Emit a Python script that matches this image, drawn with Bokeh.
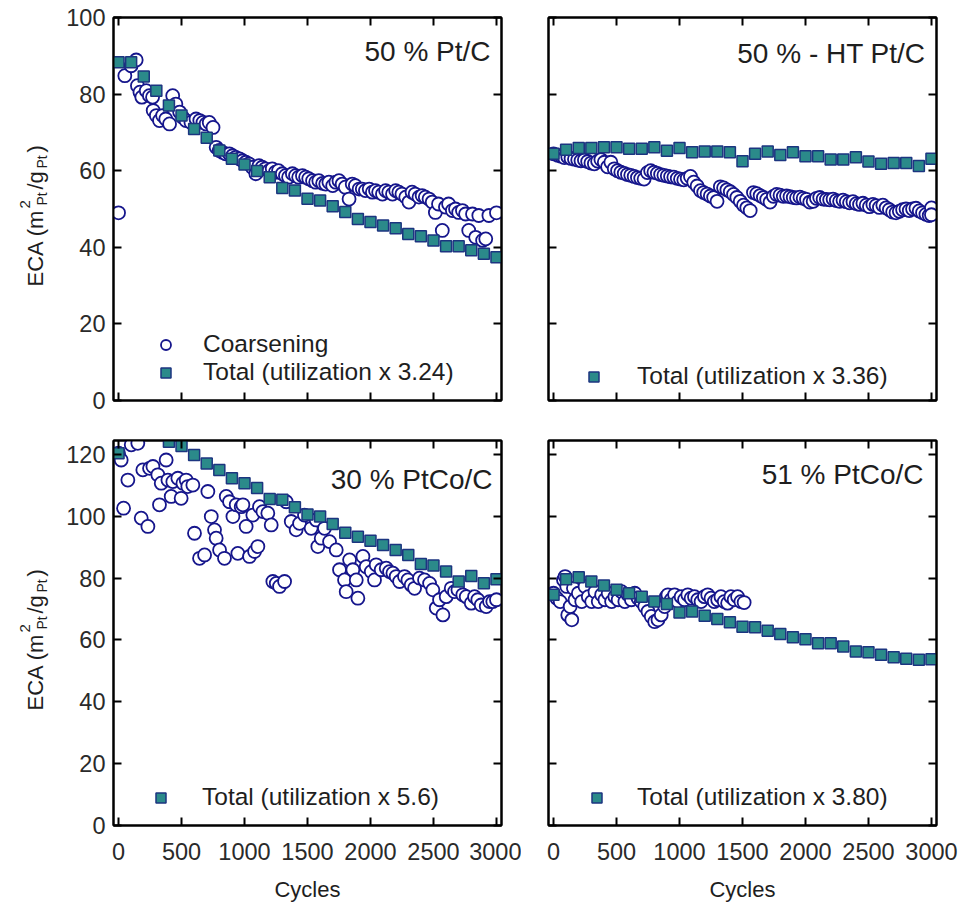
import numpy as np
from bokeh.plotting import figure
from bokeh.models import (Range1d, LinearAxis, FixedTicker, Legend, LegendItem,
                          Label, ColumnDataSource)
from bokeh.layouts import row, column
from bokeh.embed import file_html
from bokeh.resources import INLINE
from bokeh.core.properties import value

FONT = "Liberation Sans"

# ---------------- data ----------------
x_ticks = [0, 500, 1000, 1500, 2000, 2500, 3000]
y_ticks_top = [0, 20, 40, 60, 80, 100]
y_ticks_bottom = [0, 20, 40, 60, 80, 100, 120]

cycles_100 = [0, 100, 200, 300, 400, 500, 600, 700, 800, 900, 1000, 1100, 1200, 1300, 1400,
              1500, 1600, 1700, 1800, 1900, 2000, 2100, 2200, 2300, 2400, 2500, 2600, 2700,
              2800, 2900, 3000]

# Panel 1: 50 % Pt/C
p1_total_y = [88.3, 88.3, 84.6, 80.9, 77.0, 74.4, 70.9, 68.6, 65.3, 63.1, 61.6, 59.9, 58.3,
              55.5, 54.8, 52.7, 52.2, 50.7, 49.2, 47.4, 46.6, 45.7, 45.0, 43.5, 42.9, 41.8,
              40.3, 40.3, 39.2, 38.3, 37.4]
p1_coarse_x = [0, 50, 100, 140, 150, 170, 185, 220, 245, 270, 275, 300, 325, 350, 375, 405,
               430, 455, 485, 510, 535, 575, 615, 645, 670, 695, 720, 750, 775, 800, 825, 850,
               880, 905, 930, 960, 985, 1010, 1035, 1060, 1090, 1115, 1140, 1165, 1195, 1220,
               1245, 1270, 1300, 1325, 1350, 1380, 1405, 1430, 1460, 1485, 1510, 1540, 1565,
               1590, 1620, 1645, 1670, 1700, 1725, 1750, 1775, 1800, 1830, 1855, 1880, 1910,
               1935, 1960, 1990, 2015, 2040, 2065, 2095, 2120, 2145, 2175, 2200, 2225, 2250,
               2280, 2305, 2330, 2355, 2385, 2410, 2435, 2465, 2490, 2515, 2540, 2570, 2595,
               2620, 2650, 2675, 2700, 2730, 2755, 2780, 2810, 2835, 2860, 2890, 2915, 2940,
               3000]
p1_coarse_y = [49.0, 84.8, 87.4, 88.9, 82.2, 80.5, 79.2, 80.9, 79.6, 79.2, 75.7, 74.4, 73.1,
               74.4, 73.5, 72.2, 79.6, 77.4, 75.3, 73.9, 73.1, 72.6, 73.5, 73.1, 72.6, 72.2,
               72.6, 71.3, 66.1, 65.3, 64.8, 64.4, 64.4, 63.9, 63.5, 63.1, 62.6, 62.2, 61.8,
               60.9, 59.2, 61.3, 60.9, 60.5, 60.0, 60.5, 59.6, 60.0, 59.2, 58.7, 58.3, 59.2,
               58.7, 58.3, 58.7, 58.3, 57.9, 57.4, 57.0, 57.4, 56.7, 56.5, 57.0, 56.1, 57.0,
               57.4, 56.5, 55.7, 52.6, 56.5, 56.1, 55.2, 55.2, 54.8, 55.2, 54.4, 54.8, 54.4,
               53.9, 54.8, 54.4, 53.9, 54.8, 54.4, 53.9, 53.1, 51.8, 54.4, 53.9, 53.1, 53.5,
               53.1, 52.6, 51.8, 49.1, 51.3, 44.4, 50.5, 51.3, 49.6, 50.0, 49.1, 49.6, 48.7,
               44.4, 48.7, 42.6, 48.3, 41.8, 42.2, 48.3, 49.0]

# Panel 2: 50 % - HT Pt/C
p2_total_y = [64.4, 65.5, 65.9, 65.9, 66.1, 66.1, 65.7, 65.7, 66.1, 65.2, 65.9, 64.8, 65.0,
              65.0, 64.8, 62.5, 64.4, 65.0, 64.1, 64.8, 63.8, 63.8, 62.9, 62.9, 63.5, 62.4,
              61.8, 62.0, 62.0, 61.2, 63.1]
p2_coarse_x = [0, 34, 61, 87, 113, 139, 166, 192, 218, 245, 271, 297, 324, 350, 376, 403, 429,
               455, 482, 508, 534, 561, 587, 613, 640, 666, 692, 719, 745, 771, 797, 824, 850,
               876, 903, 929, 955, 982, 1008, 1034, 1061, 1087, 1113, 1140, 1166, 1192, 1219,
               1245, 1271, 1298, 1324, 1350, 1376, 1403, 1429, 1455, 1482, 1508, 1534, 1561,
               1587, 1613, 1640, 1666, 1692, 1719, 1745, 1771, 1798, 1824, 1850, 1877, 1903,
               1929, 1956, 1982, 2008, 2034, 2061, 2087, 2113, 2140, 2166, 2192, 2219, 2245,
               2271, 2298, 2324, 2350, 2377, 2403, 2429, 2456, 2482, 2508, 2535, 2561, 2587,
               2614, 2640, 2666, 2692, 2719, 2745, 2771, 2798, 2824, 2850, 2877, 2903, 2929,
               2956, 2982, 3000, 3000]
p2_coarse_y = [64.4, 64.0, 63.8, 63.4, 63.6, 63.2, 63.0, 62.8, 62.6, 62.8, 62.4, 62.0, 61.8,
               62.5, 62.9, 62.2, 61.0, 62.2, 60.5, 60.0, 59.6, 59.3, 59.0, 58.8, 58.5, 58.2,
               58.0, 57.8, 59.5, 60.0, 59.6, 59.3, 59.0, 58.8, 58.6, 58.4, 58.3, 58.0, 57.8,
               57.6, 58.0, 58.5, 57.0, 56.0, 54.8, 54.3, 53.9, 53.4, 53.0, 52.0, 55.8, 55.5,
               55.0, 54.5, 53.8, 53.0, 52.0, 51.0, 50.3, 49.6, 54.3, 54.0, 53.5, 53.0, 52.5,
               51.8, 53.3, 53.8, 53.6, 53.3, 53.4, 53.2, 53.0, 52.9, 53.1, 52.8, 52.5, 51.8,
               52.0, 52.8, 53.0, 52.6, 52.5, 52.4, 52.6, 52.2, 52.0, 52.3, 51.9, 51.6, 51.9,
               51.4, 51.2, 51.5, 51.0, 50.6, 51.2, 50.9, 50.4, 51.0, 50.3, 49.8, 49.2, 49.0,
               49.4, 49.8, 50.0, 49.6, 50.0, 50.2, 49.5, 49.0, 48.6, 48.3, 50.3, 48.5]

# Panel 3: 30 % PtCo/C
p3_total_x = [0, 400, 500, 600, 700, 800, 900, 1000, 1100, 1200, 1300, 1400, 1500, 1600, 1700,
              1800, 1900, 2000, 2100, 2200, 2300, 2400, 2500, 2600, 2700, 2800, 2900, 3000]
p3_total_y = [120.4, 124.1, 122.7, 119.8, 117.1, 115.0, 112.3, 110.7, 109.1, 105.6, 105.3,
              102.9, 100.6, 99.9, 97.5, 94.7, 93.4, 92.1, 90.7, 89.1, 87.5, 84.6, 84.1, 82.1,
              78.9, 80.7, 78.3, 79.6]
p3_coarse_x = [0, 21, 74, 40, 101, 153, 180, 233, 193, 246, 273, 312, 325, 339, 378, 392, 418,
               431, 471, 497, 511, 537, 550, 590, 603, 643, 683, 709, 736, 762, 775, 802, 841,
               855, 881, 908, 934, 947, 974, 987, 1013, 1040, 1066, 1080, 1106, 1119, 1146,
               1185, 1212, 1225, 1252, 1278, 1318, 1331, 1371, 1410, 1437, 1476, 1529, 1569,
               1582, 1609, 1635, 1675, 1728, 1754, 1794, 1807, 1834, 1860, 1887, 1900, 1940,
               1966, 2006, 2032, 2045, 2085, 2125, 2151, 2178, 2204, 2231, 2270, 2297, 2323,
               2350, 2389, 2429, 2469, 2495, 2522, 2548, 2575, 2601, 2641, 2667, 2694, 2733,
               2760, 2800, 2826, 2852, 2879, 2919, 2945, 2971, 3000]
p3_coarse_y = [120.4, 118.2, 111.7, 102.6, 123.1, 123.6, 99.4, 96.7, 115.0, 115.5, 116.1,
               113.4, 103.7, 110.7, 118.2, 111.7, 106.4, 111.2, 112.3, 105.8, 110.7, 111.7,
               109.6, 110.1, 94.5, 86.4, 87.5, 108.0, 99.9, 95.6, 92.9, 89.1, 86.4, 106.4,
               104.7, 99.9, 103.7, 88.0, 103.1, 103.7, 96.7, 87.0, 100.4, 88.6, 90.2, 103.1,
               101.5, 101.0, 97.2, 78.9, 78.3, 77.3, 78.9, 104.7, 98.3, 95.6, 97.7, 100.4,
               96.1, 98.8, 90.2, 92.9, 96.1, 91.8, 89.1, 82.7, 79.4, 75.6, 85.9, 82.7, 79.4,
               73.5, 87.0, 83.7, 82.1, 79.4, 84.3, 82.7, 83.2, 82.1, 81.6, 80.5, 78.9, 80.5,
               79.4, 77.8, 76.7, 80.0, 79.4, 78.3, 76.2, 70.3, 73.0, 68.1, 74.0, 76.7, 75.6,
               76.2, 74.6, 74.0, 71.9, 74.0, 73.0, 71.3, 70.8, 72.4, 72.4, 73.0]

# Panel 4: 51 % PtCo/C
p4_total_y = [74.6, 79.6, 80.3, 78.9, 77.6, 76.2, 75.1, 74.0, 72.4, 71.6, 68.9, 69.2, 67.8,
              66.8, 65.7, 64.3, 64.1, 63.0, 61.9, 60.9, 60.2, 58.9, 58.9, 57.9, 56.3, 56.0,
              55.2, 54.4, 53.9, 53.6, 53.8]
p4_coarse_x = [0, 26, 53, 79, 92, 105, 113, 132, 145, 158, 171, 197, 224, 250, 276, 303, 329,
               355, 382, 408, 434, 461, 487, 513, 540, 566, 592, 618, 645, 671, 697, 724, 750,
               776, 803, 829, 855, 882, 895, 908, 934, 961, 987, 1013, 1040, 1066, 1092, 1119,
               1145, 1171, 1198, 1224, 1250, 1276, 1303, 1329, 1355, 1382, 1408, 1434, 1461,
               1487, 1513]
p4_coarse_y = [75.1, 73.5, 72.4, 79.4, 80.5, 77.3, 68.1, 70.8, 66.5, 76.7, 73.0, 75.1, 72.4,
               77.3, 74.0, 72.4, 75.6, 72.4, 74.6, 73.0, 75.1, 72.4, 74.0, 73.0, 75.6, 72.4,
               74.6, 73.0, 75.1, 73.5, 72.4, 70.8, 69.2, 67.6, 65.9, 66.5, 68.1, 70.8, 74.0,
               74.6, 73.0, 74.6, 72.4, 74.0, 73.0, 74.6, 73.5, 74.0, 73.0, 72.4, 74.0, 74.6,
               73.5, 72.4, 73.0, 74.0, 72.4, 71.9, 74.0, 73.0, 74.0, 72.4, 72.1]

titles = ["50 % Pt/C", "50 % - HT Pt/C", "30 % PtCo/C", "51 % PtCo/C"]
coarse_label = "Coarsening"
total_labels = ["Total (utilization x 3.24)", "Total (utilization x 3.36)",
                "Total (utilization x 5.6)", "Total (utilization x 3.80)"]
x_label = "Cycles"

# ---------------- style ----------------
CIRCLE_LINE = "#16168c"
SQUARE_FILL = "#2b8a8a"
SQUARE_LINE = "#1c3580"
TEXT = "#1e1e1e"
TICK_TEXT = "#2a2a2a"


def style_axis(ax, ticks, show_labels):
    ax.ticker = FixedTicker(ticks=ticks)
    ax.major_tick_in = 8
    ax.major_tick_out = 0
    ax.minor_tick_in = 0
    ax.minor_tick_out = 0
    ax.major_tick_line_width = 2
    ax.major_tick_line_color = "black"
    ax.axis_line_width = 2
    ax.axis_line_color = "black"
    ax.major_label_text_font = FONT
    if show_labels:
        ax.major_label_text_font_size = "23.5px"
        ax.major_label_text_color = TICK_TEXT
    else:
        ax.major_label_text_font_size = "1px"
        ax.major_label_text_color = None
        ax.major_label_standoff = 0


def make_panel(width, height, borders, y_end, y_ticks, show_y, show_x, title, title_xy,
               cx, cy, tx, ty, total_label, legend_loc, legend_standoff, with_coarse_legend):
    bl, br, bt, bb = borders
    p = figure(width=width, height=height, x_range=Range1d(-40, 3040),
               y_range=Range1d(0, y_end), output_backend="svg", toolbar_location=None,
               min_border_left=bl, min_border_right=br, min_border_top=bt,
               min_border_bottom=bb, background_fill_color="white",
               border_fill_color="white", outline_line_color="black",
               outline_line_width=2)
    p.grid.visible = False
    p.add_layout(LinearAxis(), "above")
    p.add_layout(LinearAxis(), "right")
    style_axis(p.below[0], x_ticks, show_x)
    style_axis(p.above[0], x_ticks, False)
    style_axis(p.left[0], y_ticks, show_y)
    style_axis(p.right[0], y_ticks, False)
    if show_y:
        p.left[0].major_label_standoff = 8
    if show_x:
        p.below[0].major_label_standoff = 17
        p.below[0].axis_label = x_label
        p.below[0].axis_label_text_font = FONT
        p.below[0].axis_label_text_font_size = "22px"
        p.below[0].axis_label_text_font_style = "normal"
        p.below[0].axis_label_text_color = TEXT
        p.below[0].axis_label_standoff = 14

    rc = p.scatter(cx, cy, marker="circle", size=13, fill_color="white",
                   line_color=CIRCLE_LINE, line_width=1.8)
    rs = p.scatter(tx, ty, marker="square", size=11, fill_color=SQUARE_FILL,
                   line_color=SQUARE_LINE, line_width=1.5)

    items = []
    if with_coarse_legend:
        items.append(LegendItem(label=coarse_label, renderers=[rc]))
    items.append(LegendItem(label=total_label, renderers=[rs]))
    leg = Legend(items=items, location=legend_loc, padding=0, margin=0, spacing=0,
                 glyph_width=25, glyph_height=25, label_height=28,
                 label_standoff=int(legend_standoff), label_text_font=FONT,
                 label_text_font_size="24.5px", label_text_color=TEXT,
                 border_line_color=None, background_fill_alpha=0)
    p.add_layout(leg)

    p.add_layout(Label(x=title_xy[0], y=title_xy[1], text=title, text_align="right",
                       text_baseline="alphabetic", text_font=FONT,
                       text_font_size="28px", text_color=TEXT))
    return p


def make_ylabel(height, start_y, cx=35):
    f = figure(width=50, height=height, x_range=Range1d(0, 50), y_range=Range1d(0, height),
               x_axis_location=None, y_axis_location=None, min_border=0,
               outline_line_color=None, toolbar_location=None, output_backend="svg",
               background_fill_color="white", border_fill_color="white")
    f.grid.visible = False
    # (text, font px, offset across the line, offset along the line)
    pieces = [("ECA (m", 22, 0, 0), ("2", 15, -11, 78), ("Pt", 14, 6, 81),
              ("/g", 22, 0, 97), ("Pt", 14, 6, 118), (")", 22, 0, 134)]
    src = ColumnDataSource(dict(
        x=[cx + p[2] for p in pieces],
        y=[start_y + p[3] for p in pieces],
        text=[p[0] for p in pieces],
        size=[f"{p[1]}px" for p in pieces]))
    f.text(x="x", y="y", text="text", source=src, angle=np.pi / 2,
           text_font=value(FONT), text_font_size="size", text_align="left",
           text_baseline="middle", text_color=TEXT)
    return f


p1 = make_panel(471, 420, (63, 20, 17, 20), 100, y_ticks_top, True, False, titles[0],
                (2953, 91.2), p1_coarse_x, p1_coarse_y, cycles_100, p1_total_y,
                total_labels[0], (40, 14), 25, True)
p2 = make_panel(441, 420, (27, 26, 17, 20), 100, y_ticks_top, False, False, titles[1],
                (2953, 90.7), p2_coarse_x, p2_coarse_y, cycles_100, p2_total_y,
                total_labels[1], (33, 10), 31, False)
p3 = make_panel(471, 489, (63, 20, 20, 84), 124.5, y_ticks_bottom, True, True, titles[2],
                (2969, 112.0), p3_coarse_x, p3_coarse_y, p3_total_x, p3_total_y,
                total_labels[2], (35, 14), 29, False)
p4 = make_panel(441, 489, (27, 26, 20, 84), 124.5, y_ticks_bottom, False, True, titles[3],
                (2937, 113.6), p4_coarse_x, p4_coarse_y, cycles_100, p4_total_y,
                total_labels[3], (36, 14), 28, False)

lab1 = make_ylabel(420, 420 - 286)
lab2 = make_ylabel(489, 489 - (710 - 420))

layout = row(column(lab1, lab2), column(row(p1, p2), row(p3, p4)))

open("out.html", "w").write(file_html(layout, INLINE, "ECA"))
